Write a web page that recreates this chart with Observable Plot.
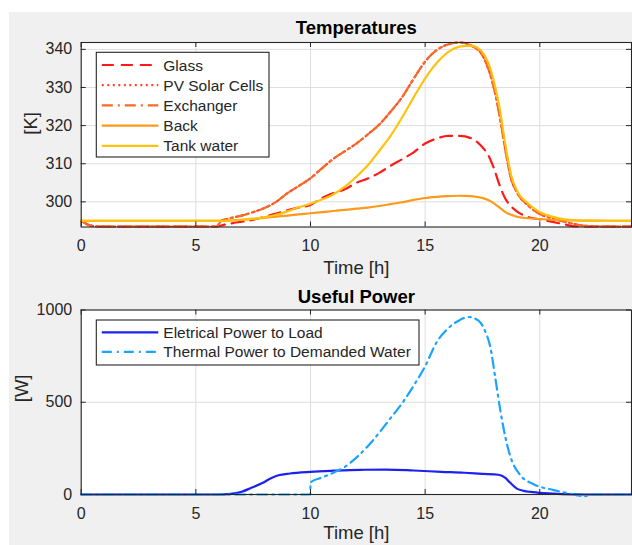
<!DOCTYPE html>
<html><head><meta charset="utf-8">
<script src="https://cdn.jsdelivr.net/npm/d3@7"></script>
<script src="https://cdn.jsdelivr.net/npm/@observablehq/plot@0.6"></script>
<style>
body{margin:0;background:#fff;}
#fig{position:relative;width:632px;height:545px;background:#fff;overflow:hidden;font-family:"Liberation Sans",Arial,sans-serif;color:#262626;}
#bg{position:absolute;left:9px;top:12px;right:0;bottom:0;background:#f0f0f0;}
.panel{position:absolute;left:0;}
.legend{position:absolute;left:0;top:0;}
</style></head><body><div id="fig"><div id="bg"></div></div>
<script>
// ---------- Temperatures (K) ----------
const timeTemp = [0,0.3,0.6,1,2,3,4,5,5.9,6.1,6.5,7,7.5,8,8.5,9,9.5,10,10.5,11,11.5,12,12.5,13,13.5,14,14.5,15,15.5,16,16.5,17,17.5,17.75,18,18.25,18.5,18.75,19,19.5,20,20.5,21,21.5,22,23,24];
const glassT    = [295,294.0,293.6,293.5,293.5,293.5,293.5,293.5,293.5,293.8,294.3,294.8,295.3,296.1,296.9,297.8,298.5,299.2,301.0,302.3,303.3,305.0,306.1,307.6,309.5,311.2,313.0,315.3,316.6,317.3,317.3,316.7,314.3,312.3,308.8,304.3,300.8,298.8,297.5,296.0,295.4,294.8,294.2,293.6,293.5,293.5,293.5];
const pvCellsT  = [295,294.0,293.6,293.5,293.5,293.5,293.5,293.5,293.5,295.0,295.7,296.4,297.3,298.4,300.0,302.3,304.2,306.2,308.8,311.3,313.3,315.3,317.7,320.3,323.7,327.5,332.3,336.8,339.8,341.3,341.8,341.0,338.4,335.0,329.8,322.5,313.5,306.0,302.5,299.0,296.8,295.7,294.9,294.2,293.7,293.5,293.5];
const exchangerT= [295,294.0,293.6,293.5,293.5,293.5,293.5,293.5,293.5,295.0,295.7,296.4,297.3,298.4,300.0,302.3,304.2,306.2,308.8,311.3,313.3,315.3,317.7,320.3,323.7,327.5,332.3,336.8,339.8,341.3,341.8,341.0,338.4,335.0,329.8,322.5,313.5,306.0,302.5,299.0,296.8,295.7,294.9,294.2,293.7,293.5,293.5];
const backT     = [295,295,295,295,295,295,295,295,295,295,295.1,295.3,295.5,295.8,296.1,296.4,296.7,297.0,297.3,297.6,297.9,298.2,298.5,298.9,299.4,299.9,300.5,301.0,301.3,301.5,301.6,301.5,301.0,300.5,299.6,298.5,297.3,296.6,296.1,295.7,295.5,295.3,295.2,295.1,295.05,295,295];
const tankT     = [295,295,295,295,295,295,295,295,295,295,295.1,295.3,295.6,296.0,296.6,297.5,298.6,299.5,300.6,302.0,304.0,306.6,309.6,313.4,317.4,322.2,327.4,332.4,336.4,339.3,340.7,341.0,339.2,336.5,331.5,324.5,315.0,307.0,303.0,299.5,297.3,296.2,295.5,295.2,295.05,295,295];
const tempNames  = ["Glass","PV Solar Cells","Exchanger","Back","Tank water"];
const tempColors = ["#ff1a1a","#ff4433","#f96a25","#fc9a1c","#ffc20e"];
const tempDashes = ["12,7","2,3.5","11,5,2,5",null,null];
const tempTicks  = [300,310,320,330,340];

// ---------- Useful power (W) ----------
const timeElec = [0,6,6.5,7,7.4,7.9,8.3,8.6,9.1,10,11,12.2,13.3,14.5,15.7,16.7,17.5,18.2,18.5,18.7,19,19.3,19.6,20.2,21,22,24];
const elecW    = [0,0,3,15,35,62,90,104,114,123,129,134,135,130,123,118,112,107,90,65,32,20,14,7,2,0,0];
const timeTherm = [0,9.99,10,10.5,11,11.5,12,12.5,13,13.5,14,14.5,15,15.5,16,16.5,16.9,17.3,17.6,17.85,18.05,18.28,18.5,18.72,19.15,19.73,20.6,21.2,21.6,21.9,22.3,24];
const thermW    = [0,0,65,92,118,150,200,262,335,415,495,590,695,825,900,945,962,945,890,795,640,455,310,205,105,56,24,8,-3,-10,0,0];
const powerNames  = ["Eletrical Power to Load","Thermal Power to Demanded Water"];
const powerColors = ["#1c22ee","#1aa3ff"];
const powerDashes = [null,"10,5,2,5"];
const powerTicks  = [0,500,1000];

const xTicks = [0,5,10,15,20];
const ink = "#262626";
const FONT = "Liberation Sans, Arial, sans-serif";

function panel({top, height, mt, mb, yDomain, yTicks, series, title, titleDy, ylabel, ylabelDx, xlabelDy}) {
  const ml = 80.7, mr = 1, W = 632;
  const ih = height - mt - mb, iw = W - ml - mr;
  const marks = [
    Plot.frame({fill: "white", stroke: null}),
    Plot.gridX(xTicks, {stroke: "#dedede", strokeOpacity: 1}),
    Plot.gridY(yTicks, {stroke: "#dedede", strokeOpacity: 1}),
    ...series.map(s => Plot.line(s.t.map((t, i) => ({t, v: s.v[i]})), {
      x: "t", y: "v", stroke: s.color, strokeWidth: 2.2,
      strokeDasharray: s.dash, curve: "monotone-x"
    })),
    Plot.tickX(xTicks, {x: d => d, insetTop: ih - 5, stroke: ink}),
    Plot.tickX(xTicks, {x: d => d, insetBottom: ih - 5, stroke: ink}),
    Plot.tickY(yTicks, {y: d => d, insetRight: iw - 5, stroke: ink}),
    Plot.tickY(yTicks, {y: d => d, insetLeft: iw - 5, stroke: ink}),
    Plot.frame({stroke: ink, strokeWidth: 1.1}),
    Plot.axisX(xTicks, {tickSize: 0, tickPadding: 13, fontSize: 16, fill: ink, label: null, tickFormat: d => String(d)}),
    Plot.axisY(yTicks, {tickSize: 0, tickPadding: 9, fontSize: 16, fill: ink, label: null, tickFormat: d => String(d)}),
    Plot.text([title], {text: d => d, frameAnchor: "top", lineAnchor: "middle", dy: titleDy, fontWeight: "bold", fontSize: 18.5, fill: "#000"}),
    Plot.text(["Time [h]"], {text: d => d, frameAnchor: "bottom", lineAnchor: "middle", dy: xlabelDy, fontSize: 18.5, fill: ink}),
    Plot.text([ylabel], {text: d => d, frameAnchor: "left", lineAnchor: "middle", dx: ylabelDx, rotate: -90, fontSize: 18.5, fill: ink})
  ];
  const svg = Plot.plot({
    width: W, height, marginTop: mt, marginBottom: mb, marginLeft: ml, marginRight: mr,
    x: {domain: [0, 24]}, y: {domain: yDomain},
    style: {background: "transparent", fontFamily: FONT, color: ink, overflow: "visible"},
    marks
  });
  svg.classList.add("panel");
  svg.style.top = top + "px";
  return svg;
}

function legend(svgSel, {x, y, w, h, names, colors, dashes, first, step}) {
  const g = svgSel.append("g");
  g.append("rect").attr("x", x).attr("y", y).attr("width", w).attr("height", h)
    .attr("fill", "white").attr("stroke", ink).attr("stroke-width", 1.1);
  names.forEach((n, i) => {
    const yy = y + first + i * step;
    g.append("line").attr("x1", x + 5.5).attr("x2", x + 62).attr("y1", yy).attr("y2", yy)
      .attr("stroke", colors[i]).attr("stroke-width", 2.2)
      .attr("stroke-dasharray", dashes[i]);
    g.append("text").attr("x", x + 67).attr("y", yy).attr("dy", "0.36em")
      .attr("font-size", 15.5).attr("fill", ink).attr("font-family", FONT).text(n);
  });
}

const fig = document.getElementById("fig");
const tempSeries = [glassT, pvCellsT, exchangerT, backT, tankT].map((v, i) => ({t: timeTemp, v, color: tempColors[i], dash: tempDashes[i]}));
fig.appendChild(panel({top: 0, height: 280, mt: 42, mb: 53.5, yDomain: [293.4, 341.8], yTicks: tempTicks,
  series: tempSeries, title: "Temperatures", titleDy: -14, ylabel: "[K]", ylabelDx: -50, xlabelDy: 41.5}));
const powerSeries = [
  {t: timeElec, v: elecW, color: powerColors[0], dash: powerDashes[0]},
  {t: timeTherm, v: thermW, color: powerColors[1], dash: powerDashes[1]}
];
fig.appendChild(panel({top: 280, height: 265, mt: 29.5, mb: 51, yDomain: [0, 1000], yTicks: powerTicks,
  series: powerSeries, title: "Useful Power", titleDy: -12.5, ylabel: "[W]", ylabelDx: -59, xlabelDy: 38.5}));

const lsvg = d3.select(fig).append("svg").attr("class", "legend").attr("width", 632).attr("height", 545);
legend(lsvg, {x: 96.3, y: 52.3, w: 172.7, h: 104.7, names: tempNames, colors: tempColors, dashes: tempDashes, first: 12.7, step: 20.2});
legend(lsvg, {x: 96.3, y: 320, w: 322.7, h: 45, names: powerNames, colors: powerColors, dashes: powerDashes, first: 12.4, step: 19.4});
</script></body></html>
